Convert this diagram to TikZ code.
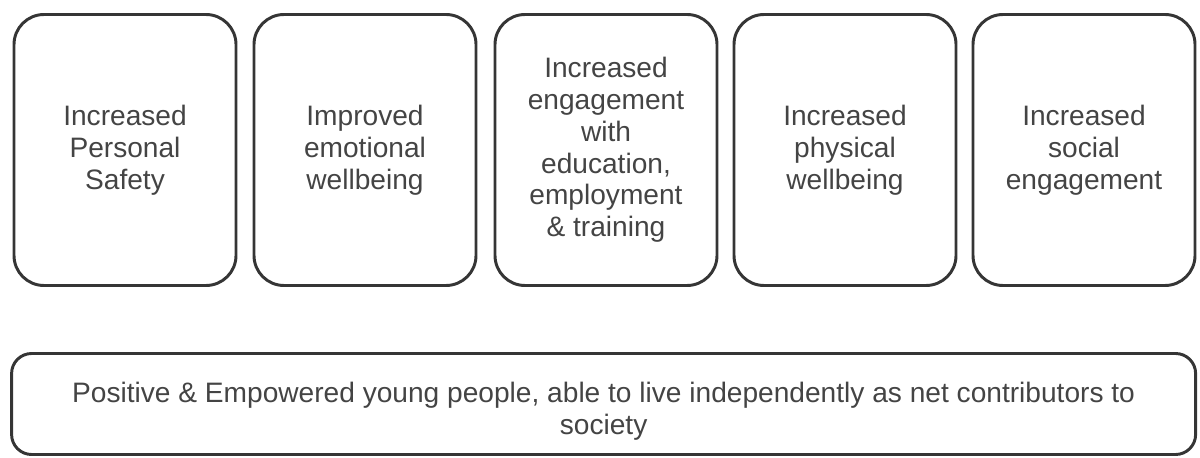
\documentclass[tikz,border=0pt]{standalone}
\usepackage{fontspec}
\setmainfont{Liberation Sans}
\usepackage{tikz}
\usetikzlibrary{positioning}

\definecolor{edge}{HTML}{353535}
\definecolor{ink}{HTML}{444444}

\begin{document}
\begin{tikzpicture}[outcome/.style={draw=edge,line width=2.1pt,rounded corners=0.75cm,minimum width=5.55cm,minimum height=6.775cm,align=center,text=ink,font=\fontsize{20}{22.6}\selectfont},goalbox/.style={draw=edge,line width=2.1pt,rounded corners=0.5cm,minimum width=29.6cm,minimum height=2.525cm},goaltext/.style={align=center,text=ink,font=\fontsize{20}{22.6}\selectfont}]
      \useasboundingbox (0,0) rectangle (30,11.425);

      \node[outcome] (o1) at (3.125,7.675) {Increased\\Personal\\Safety};
      \node[outcome] (o2) at (9.125,7.675) {Improved\\emotional\\wellbeing};
      \node[outcome] (o3) at (15.15,7.675) {Increased\\engagement\\with\\education,\\employment\\\& training};
      \node[outcome] (o4) at (21.125,7.675) {Increased\\physical\\wellbeing};
      \node[outcome] (o5) at (27.1,7.675) {Increased\\social\\engagement};

      \node[goalbox] (goal) at (15.09,1.325) {};
      \node[goaltext] (goallabel) at ([yshift=-0.18cm]goal.center) {Positive \& Empowered young people, able to live independently as net contributors to\\society};
    \end{tikzpicture}
\end{document}
